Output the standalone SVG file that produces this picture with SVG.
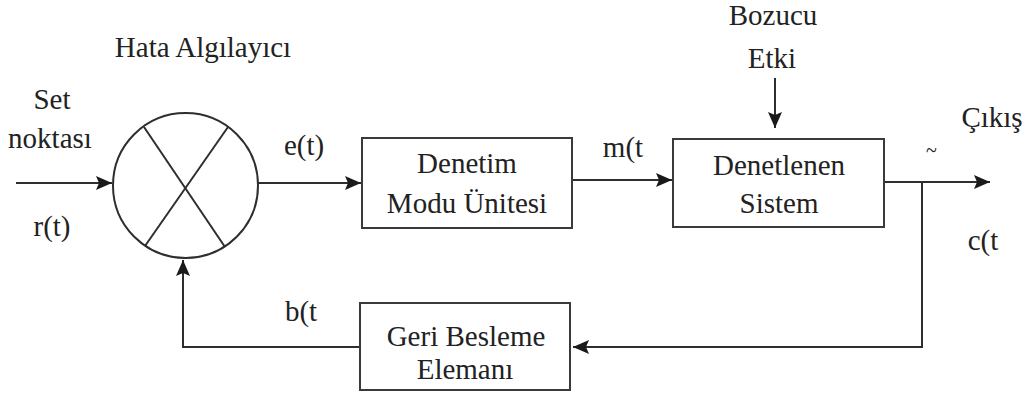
<svg xmlns="http://www.w3.org/2000/svg" width="1028" height="396" viewBox="0 0 1028 396">
<style>
.t{font-family:'Liberation Serif','Times New Roman',serif;font-size:29px;fill:#222}
.box{fill:#fff;stroke:#3a3a3a;stroke-width:2}
.ln{fill:none;stroke:#2e2e2e;stroke-width:2}
</style>
<defs>
<marker id="ah" markerUnits="userSpaceOnUse" markerWidth="18" markerHeight="14" refX="16" refY="7" orient="auto">
<path d="M0,0 L16,7 L0,14 L3,7 z" fill="#1a1a1a"/>
</marker>
</defs>
<rect width="1028" height="396" fill="#fff"/>
<g id="connectors">
<line class="ln" x1="16" y1="183" x2="112" y2="183" marker-end="url(#ah)"/>
<line class="ln" x1="258" y1="183" x2="361" y2="183" marker-end="url(#ah)"/>
<line class="ln" x1="572" y1="180" x2="672" y2="180" marker-end="url(#ah)"/>
<line class="ln" x1="775" y1="78" x2="775" y2="128" marker-end="url(#ah)"/>
<line class="ln" x1="884" y1="182" x2="990" y2="182" marker-end="url(#ah)"/>
<polyline class="ln" points="922,182 922,347 573,347" marker-end="url(#ah)"/>
<polyline class="ln" points="360,347 183,347 183,260" marker-end="url(#ah)"/>
</g>
<g id="hata-algilayici">
<circle cx="185.5" cy="185.5" r="72.5" fill="none" stroke="#2e2e2e" stroke-width="2"/>
<line class="ln" x1="144" y1="127" x2="225" y2="247"/>
<line class="ln" x1="228" y1="127" x2="145" y2="246"/>
<text class="t" x="203" y="57" text-anchor="middle">Hata Algılayıcı</text>
</g>
<g id="set-noktasi">
<text class="t" x="52" y="109" text-anchor="middle">Set</text>
<text class="t" x="50" y="148" text-anchor="middle">noktası</text>
<text class="t" x="52" y="236" text-anchor="middle">r(t)</text>
</g>
<text class="t" x="304" y="155" text-anchor="middle">e(t)</text>
<g id="denetim-modu">
<rect class="box" x="362" y="138" width="210" height="90"/>
<text class="t" x="467" y="173" text-anchor="middle">Denetim</text>
<text class="t" x="467" y="213" text-anchor="middle">Modu Ünitesi</text>
</g>
<text class="t" x="623" y="157" text-anchor="middle">m(t</text>
<g id="bozucu-etki">
<text class="t" x="773" y="25" text-anchor="middle">Bozucu</text>
<text class="t" x="772" y="68" text-anchor="middle">Etki</text>
</g>
<g id="denetlenen-sistem">
<rect class="box" x="673" y="139" width="211" height="88"/>
<text class="t" x="779" y="175" text-anchor="middle">Denetlenen</text>
<text class="t" x="779" y="213" text-anchor="middle">Sistem</text>
</g>
<g id="cikis">
<text class="t" x="992" y="127" text-anchor="middle">Çıkış</text>
<text class="t" x="926" y="157" style="font-size:20px">~</text>
<text class="t" x="983" y="250" text-anchor="middle">c(t</text>
</g>
<g id="geri-besleme">
<rect class="box" x="360" y="303" width="210" height="87"/>
<text class="t" x="466" y="346" text-anchor="middle">Geri Besleme</text>
<text class="t" x="465" y="379" text-anchor="middle">Elemanı</text>
</g>
<text class="t" x="301" y="321" text-anchor="middle">b(t</text>
</svg>
